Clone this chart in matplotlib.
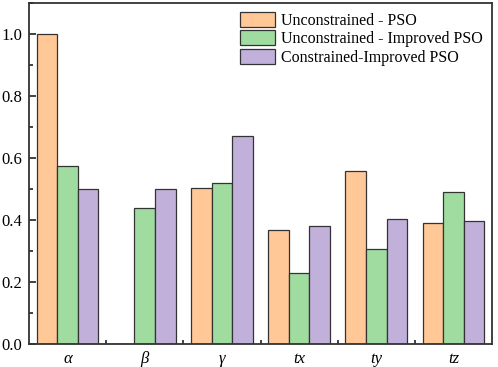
import numpy as np
import matplotlib
matplotlib.use("Agg")
from matplotlib import pyplot as plt
from matplotlib.ticker import MultipleLocator, FixedLocator

# data
categories = ['α', 'β', 'γ', 'tx', 'ty', 'tz']
series_names = ['Unconstrained - PSO', 'Unconstrained - Improved PSO', 'Constrained-Improved PSO']
pso = [1.0, 0.0, 0.502, 0.367, 0.557, 0.391]
improved = [0.573, 0.44, 0.52, 0.228, 0.305, 0.49]
constrained = [0.5, 0.5, 0.67, 0.38, 0.402, 0.396]
colors = ['#FFC896', '#A0DCA0', '#C1B0DA']

plt.rcParams['font.family'] = ['Liberation Serif', 'DejaVu Serif']

fig = plt.figure(figsize=(4.98, 3.67), dpi=100)
ax = fig.add_axes([29/498, 1 - 344/367, 463/498, 341/367])

x = np.arange(len(categories))
w = 0.8 / 3
for i, (vals, name) in enumerate(zip([pso, improved, constrained], series_names)):
    ax.bar(x + (i - 1) * w, vals, w, color=colors[i], edgecolor='#333333',
           linewidth=0.9, label=name, zorder=2)

ax.set_xlim(-0.5, len(categories) - 0.5)
ax.set_ylim(0, 1.1)
ax.set_xticks(x)
ax.set_xticklabels(categories, fontstyle='italic', fontsize=12)
ax.xaxis.set_minor_locator(FixedLocator(x[:-1] + 0.5))
ax.yaxis.set_minor_locator(MultipleLocator(0.1))
ax.set_yticks(np.arange(0, 1.01, 0.2))
ax.set_yticklabels(['%.1f' % v for v in np.arange(0, 1.01, 0.2)], fontsize=12)
ax.tick_params(which='major', direction='in', length=5, width=1.2, color='#222222', pad=5)
ax.tick_params(which='minor', direction='in', length=3, width=1.2, color='#222222')
ax.tick_params(axis='y', which='both', right=False)
for s in ax.spines.values():
    s.set_linewidth(1.3)
    s.set_color('#333333')

ax.legend(loc='upper right', frameon=False, fontsize=11.5, handlelength=2.2,
          handleheight=1.1, labelspacing=0.08, handletextpad=0.4,
          borderaxespad=0.15, bbox_to_anchor=(1.0, 1.0))

fig.savefig('out.png', dpi=100)
